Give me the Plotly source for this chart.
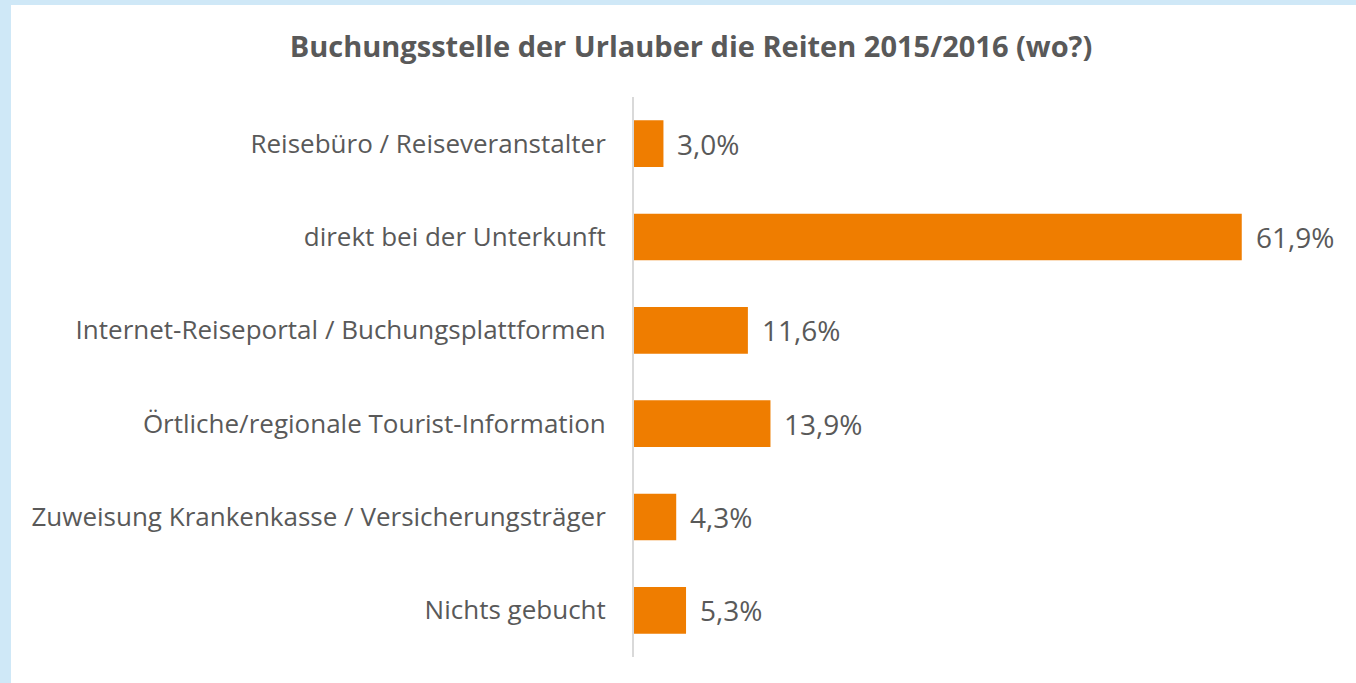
import plotly.graph_objects as go

categories = [
    "Reisebüro / Reiseveranstalter",
    "direkt bei der Unterkunft",
    "Internet-Reiseportal / Buchungsplattformen",
    "Örtliche/regionale Tourist-Information",
    "Zuweisung Krankenkasse / Versicherungsträger",
    "Nichts gebucht",
]
values = [3.0, 61.9, 11.6, 13.9, 4.3, 5.3]
value_labels = ["3,0%", "61,9%", "11,6%", "13,9%", "4,3%", "5,3%"]

W, H = 1356, 683
ML, MR, MT, MB = 634, 20, 97, 26
PW, PH = W - ML - MR, H - MT - MB

FONT = "Open Sans"
GREY = "#595959"

fig = go.Figure()
fig.add_trace(go.Bar(
    y=categories, x=values, orientation="h",
    marker=dict(color="#ef7d00", line=dict(width=0)),
    width=0.5, hoverinfo="skip",
))

for c, v, t in zip(categories, values, value_labels):
    fig.add_annotation(x=v, y=c, text=t, showarrow=False, xanchor="left",
                       xshift=12, font=dict(family=FONT, size=28, color=GREY))

def px_x(p):
    return (p - ML) / PW

def px_y(p):
    return (H - MB - p) / PH

fig.add_shape(type="rect", xref="paper", yref="paper",
              x0=px_x(11), x1=px_x(W + 5), y0=px_y(5), y1=px_y(H + 5),
              fillcolor="white", line=dict(width=0), layer="below")

fig.update_layout(
    width=W, height=H,
    margin=dict(l=ML, r=MR, t=MT, b=MB),
    paper_bgcolor="#cfe8f7",
    plot_bgcolor="rgba(0,0,0,0)",
    showlegend=False,
    bargap=0.5,
    title=dict(text="<b>Buchungsstelle der Urlauber die Reiten 2015/2016 (wo?)</b>",
               x=691 / W, xanchor="center",
               y=1 - 47 / H, yanchor="middle",
               font=dict(family=FONT, size=29, color=GREY)),
    xaxis=dict(range=[0, 71.5], showgrid=False, zeroline=False, showticklabels=False,
               showline=False, fixedrange=True),
    yaxis=dict(autorange="reversed", showgrid=False, zeroline=False,
               showline=True, linecolor="#d9d9d9", linewidth=2,
               ticks="", ticklabelstandoff=21,
               tickfont=dict(family=FONT, size=26, color=GREY)),
)

fig.write_html("out.html", config={"displayModeBar": False},
               post_script="document.body.style.margin='0';document.body.style.overflow='hidden';")
